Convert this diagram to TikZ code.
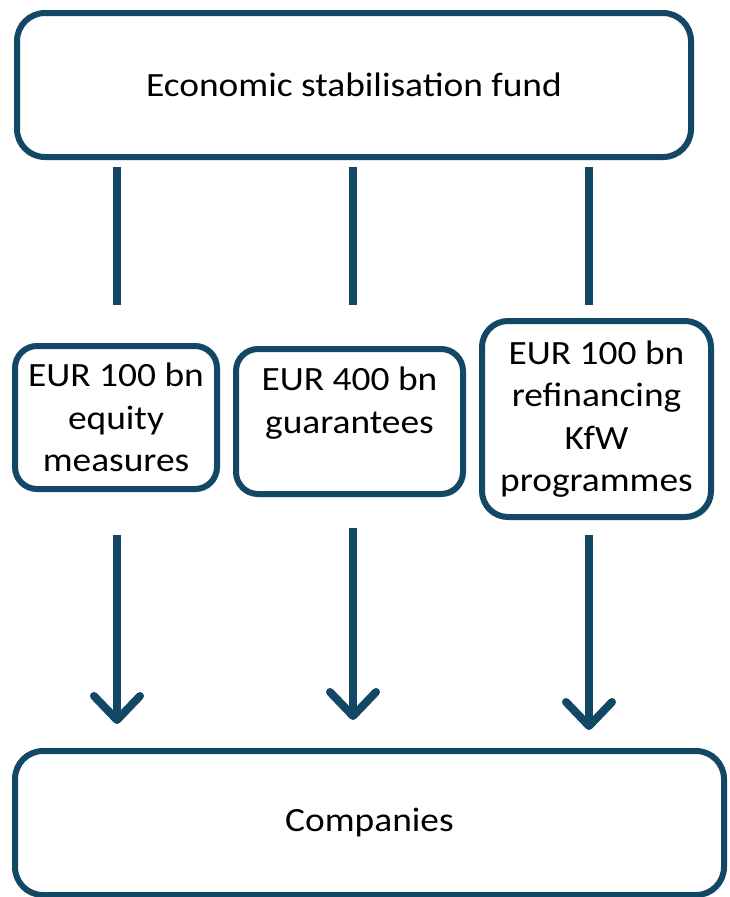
\documentclass[tikz,border=0pt]{standalone}
\usepackage{fontspec}
\setmainfont{Carlito}[FakeStretch=1.1]
\usetikzlibrary{arrows.meta,shadows}
\definecolor{frame}{HTML}{124766}
\begin{document}
\begin{tikzpicture}[x=1pt,y=-1pt,
  box/.style={draw=frame,line width=6pt,fill=white,rounded corners=28pt,
    align=center,inner sep=0pt,font=\fontsize{34}{42.5}\selectfont,
    drop shadow={opacity=0.25,shadow xshift=2pt,shadow yshift=-3pt}},
  conn/.style={draw=frame,line width=8pt},
  arr/.style={conn,-{Straight Barb[length=24pt,width=46pt,round]}}]
\useasboundingbox (0,0) rectangle (729,897);
\node[box,minimum width=674pt,minimum height=144pt] (fund) at (354,85) {Economic stabilisation fund};
\node[box,minimum width=202pt,minimum height=143pt,rounded corners=22pt] (eq) at (116,417.5) {EUR 100 bn\\equity\\measures};
\node[box,minimum width=227pt,minimum height=145pt,rounded corners=22pt] (gu) at (349.5,421.5) {EUR 400 bn\\guarantees\\\mbox{}};
\node[box,minimum width=229pt,minimum height=196pt,rounded corners=26pt] (kfw) at (596.5,419) {EUR 100 bn\\refinancing\\KfW\\programmes};
\node[box,minimum width=709pt,minimum height=144pt] (comp) at (369.5,823) {Companies};
\coordinate (a1) at (117,167); \coordinate (b1) at (117,305);
\coordinate (a2) at (353,167); \coordinate (b2) at (353,305);
\coordinate (a3) at (589,167); \coordinate (b3) at (589,305);
\draw[conn] (a1) -- (b1);
\draw[conn] (a2) -- (b2);
\draw[conn] (a3) -- (b3);
\coordinate (c1) at (117,535); \coordinate (d1) at (117,724);
\coordinate (c2) at (353,528); \coordinate (d2) at (353,720);
\coordinate (c3) at (589,535); \coordinate (d3) at (589,730);
\draw[arr] (c1) -- (d1);
\draw[arr] (c2) -- (d2);
\draw[arr] (c3) -- (d3);
\end{tikzpicture}
\end{document}
